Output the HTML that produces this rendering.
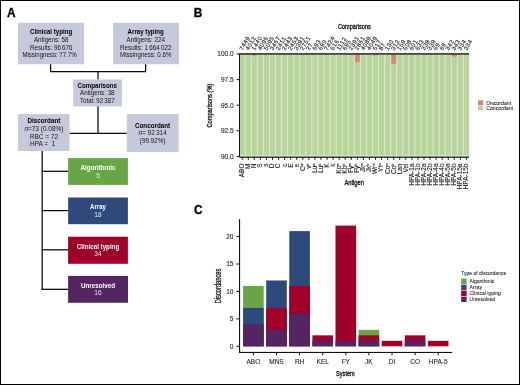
<!DOCTYPE html>
<html><head><meta charset="utf-8"><style>
html,body{margin:0;padding:0;background:#fff;}
body{width:520px;height:385px;overflow:hidden;}
svg{display:block;font-family:"Liberation Sans", sans-serif;will-change:transform;}
</style></head><body>
<svg width="520" height="385" viewBox="0 0 520 385">
<text x="7.0" y="16.8" font-size="11.9" font-weight="bold" fill="#000" text-anchor="start" stroke="#000" stroke-width="0.3">A</text>
<polyline points="50.6,64 50.6,71.7 145.6,71.7 145.6,64" fill="none" stroke="#0a0a0a" stroke-width="1.25" stroke-linejoin="round"/>
<line x1="98" y1="71.7" x2="98" y2="79.5" stroke="#0a0a0a" stroke-width="1.25"/>
<line x1="98" y1="106" x2="98" y2="133.3" stroke="#050505" stroke-width="1.25"/>
<line x1="69.5" y1="133.4" x2="126.8" y2="133.4" stroke="#050505" stroke-width="1.25"/>
<line x1="42.2" y1="151" x2="42.2" y2="289.9" stroke="#050505" stroke-width="1.25"/>
<line x1="41.55" y1="171.3" x2="68.1" y2="171.3" stroke="#050505" stroke-width="1.25"/>
<line x1="41.55" y1="210.6" x2="68.1" y2="210.6" stroke="#050505" stroke-width="1.25"/>
<line x1="41.55" y1="249.8" x2="68.1" y2="249.8" stroke="#050505" stroke-width="1.25"/>
<line x1="41.55" y1="289.3" x2="68.1" y2="289.3" stroke="#050505" stroke-width="1.25"/>
<rect x="18" y="22.8" width="66.00" height="41.50" fill="#c6c8db"/>
<rect x="113" y="22.8" width="66.00" height="41.50" fill="#c6c8db"/>
<rect x="73.2" y="79.5" width="48.70" height="26.90" fill="#c6c8db"/>
<rect x="18.1" y="114.1" width="51.40" height="36.90" fill="#c6c8db"/>
<rect x="126.8" y="114.1" width="51.80" height="38.00" fill="#c6c8db"/>
<rect x="68.1" y="158.1" width="59.80" height="26.80" fill="#68a545"/>
<rect x="68.1" y="197.5" width="59.80" height="26.70" fill="#2e4a7b"/>
<rect x="68.1" y="236.7" width="59.80" height="27.10" fill="#a0002a"/>
<rect x="68.1" y="275.9" width="59.90" height="26.90" fill="#532563"/>
<text x="51.2" y="34.2" font-size="6.6" font-weight="bold" fill="#000" text-anchor="middle" textLength="42.2" lengthAdjust="spacingAndGlyphs">Clinical typing</text>
<text x="51.2" y="42.0" font-size="6.6" font-weight="normal" fill="#161616" text-anchor="middle" textLength="34.5" lengthAdjust="spacingAndGlyphs">Antigens: 58</text>
<text x="51.2" y="49.8" font-size="6.6" font-weight="normal" fill="#161616" text-anchor="middle" textLength="42.3" lengthAdjust="spacingAndGlyphs">Results: 96 676</text>
<text x="49.5" y="57.4" font-size="6.6" font-weight="normal" fill="#161616" text-anchor="middle" textLength="54.2" lengthAdjust="spacingAndGlyphs">Missingness: 77.7%</text>
<text x="145.7" y="34.2" font-size="6.6" font-weight="bold" fill="#000" text-anchor="middle" textLength="36.2" lengthAdjust="spacingAndGlyphs">Array typing</text>
<text x="145.7" y="42.0" font-size="6.6" font-weight="normal" fill="#161616" text-anchor="middle" textLength="38.5" lengthAdjust="spacingAndGlyphs">Antigens: 224</text>
<text x="145.7" y="49.8" font-size="6.6" font-weight="normal" fill="#161616" text-anchor="middle" textLength="51.4" lengthAdjust="spacingAndGlyphs">Results: 1 664 022</text>
<text x="145.7" y="57.4" font-size="6.6" font-weight="normal" fill="#161616" text-anchor="middle" textLength="51.4" lengthAdjust="spacingAndGlyphs">Missingness: 0.6%</text>
<text x="97.3" y="87.6" font-size="6.6" font-weight="bold" fill="#000" text-anchor="middle" textLength="39.5" lengthAdjust="spacingAndGlyphs">Comparisons</text>
<text x="97.3" y="95.2" font-size="6.6" font-weight="normal" fill="#161616" text-anchor="middle" textLength="34.5" lengthAdjust="spacingAndGlyphs">Antigens: 38</text>
<text x="97.3" y="103.1" font-size="6.6" font-weight="normal" fill="#161616" text-anchor="middle" textLength="34.5" lengthAdjust="spacingAndGlyphs">Total: 92 387</text>
<text x="43.9" y="123.0" font-size="6.6" font-weight="bold" fill="#000" text-anchor="middle" textLength="33.0" lengthAdjust="spacingAndGlyphs">Discordant</text>
<text x="43.9" y="130.8" font-size="6.6" font-weight="normal" fill="#161616" text-anchor="middle" textLength="39.0" lengthAdjust="spacingAndGlyphs"><tspan font-style="italic">n</tspan>=73 (0.08%)</text>
<text x="43.9" y="138.6" font-size="6.6" font-weight="normal" fill="#161616" text-anchor="middle" textLength="28.2" lengthAdjust="spacingAndGlyphs">RBC = 72</text>
<text x="42.7" y="146.4" font-size="6.6" font-weight="normal" fill="#161616" text-anchor="middle" textLength="25.2" lengthAdjust="spacingAndGlyphs">HPA =&#160; 1</text>
<text x="152.6" y="127.5" font-size="6.6" font-weight="bold" fill="#000" text-anchor="middle" textLength="35.2" lengthAdjust="spacingAndGlyphs">Concordant</text>
<text x="152.6" y="135.4" font-size="6.6" font-weight="normal" fill="#161616" text-anchor="middle" textLength="28.3" lengthAdjust="spacingAndGlyphs"><tspan font-style="italic">n</tspan>= 92 314</text>
<text x="152.6" y="143.1" font-size="6.6" font-weight="normal" fill="#161616" text-anchor="middle" textLength="25.6" lengthAdjust="spacingAndGlyphs">(99.92%)</text>
<text x="98.0" y="169.5" font-size="6.6" font-weight="bold" fill="#fff" text-anchor="middle" textLength="35.0" lengthAdjust="spacingAndGlyphs">Algorithmic</text>
<text x="98.0" y="177.6" font-size="6.6" font-weight="normal" fill="#e8eee4" text-anchor="middle">5</text>
<text x="98.0" y="208.8" font-size="6.6" font-weight="bold" fill="#fff" text-anchor="middle" textLength="15.8" lengthAdjust="spacingAndGlyphs">Array</text>
<text x="98.0" y="216.9" font-size="6.6" font-weight="normal" fill="#e4e8f0" text-anchor="middle">18</text>
<text x="98.0" y="248.5" font-size="6.6" font-weight="bold" fill="#fff" text-anchor="middle" textLength="42.4" lengthAdjust="spacingAndGlyphs">Clinical typing</text>
<text x="98.0" y="256.4" font-size="6.6" font-weight="normal" fill="#f0dde0" text-anchor="middle">34</text>
<text x="98.0" y="287.8" font-size="6.6" font-weight="bold" fill="#fff" text-anchor="middle" textLength="34.2" lengthAdjust="spacingAndGlyphs">Unresolved</text>
<text x="98.0" y="295.2" font-size="6.6" font-weight="normal" fill="#e6dce8" text-anchor="middle">16</text>
<text x="193.8" y="17.0" font-size="11.9" font-weight="bold" fill="#000" text-anchor="start" stroke="#000" stroke-width="0.3">B</text>
<text x="354.4" y="29.4" font-size="7.8" font-weight="normal" fill="#1a1a1a" text-anchor="middle" textLength="32.8" lengthAdjust="spacingAndGlyphs" stroke="#1a1a1a" stroke-width="0.35">Comparisons</text>
<text x="0" y="0" font-size="8.1" fill="#1a1a1a" stroke="#1a1a1a" stroke-width="0.35" text-anchor="middle" textLength="44.0" lengthAdjust="spacingAndGlyphs" transform="translate(211.5,105.6) rotate(-90)">Comparisons (%)</text>
<text x="354.2" y="185.2" font-size="7.8" font-weight="normal" fill="#1a1a1a" text-anchor="middle" textLength="19.6" lengthAdjust="spacingAndGlyphs" stroke="#1a1a1a" stroke-width="0.35">Antigen</text>
<rect x="239.6" y="54.0" width="229.40" height="102.40" fill="#dfebd5"/>
<rect x="239.65" y="54.0" width="5.10" height="1.72" fill="#d2877f"/>
<rect x="239.65" y="54.716799999999935" width="5.10" height="101.68" fill="#bad59c"/>
<rect x="245.71" y="54.0" width="5.10" height="1.72" fill="#d2877f"/>
<rect x="245.71" y="54.716799999999935" width="5.10" height="101.68" fill="#bad59c"/>
<rect x="251.77" y="54.0" width="5.10" height="2.64" fill="#d2877f"/>
<rect x="251.77" y="55.63839999999996" width="5.10" height="100.76" fill="#bad59c"/>
<rect x="257.83" y="54.0" width="5.10" height="102.40" fill="#bad59c"/>
<rect x="263.89" y="54.0" width="5.10" height="102.40" fill="#bad59c"/>
<rect x="269.95" y="54.0" width="5.10" height="102.40" fill="#bad59c"/>
<rect x="276.01" y="54.0" width="5.10" height="1.31" fill="#d2877f"/>
<rect x="276.01" y="54.30720000000001" width="5.10" height="102.09" fill="#bad59c"/>
<rect x="282.07" y="54.0" width="5.10" height="1.31" fill="#d2877f"/>
<rect x="282.07" y="54.30720000000001" width="5.10" height="102.09" fill="#bad59c"/>
<rect x="288.13" y="54.0" width="5.10" height="102.40" fill="#bad59c"/>
<rect x="294.19" y="54.0" width="5.10" height="102.40" fill="#bad59c"/>
<rect x="300.25" y="54.0" width="5.10" height="102.40" fill="#bad59c"/>
<rect x="306.31" y="54.0" width="5.10" height="102.40" fill="#bad59c"/>
<rect x="312.37" y="54.0" width="5.10" height="102.40" fill="#bad59c"/>
<rect x="318.43" y="54.0" width="5.10" height="102.40" fill="#bad59c"/>
<rect x="324.49" y="54.0" width="5.10" height="102.40" fill="#bad59c"/>
<rect x="330.55" y="54.0" width="5.10" height="102.40" fill="#bad59c"/>
<rect x="336.61" y="54.0" width="5.10" height="102.40" fill="#bad59c"/>
<rect x="342.67" y="54.0" width="5.10" height="102.40" fill="#bad59c"/>
<rect x="348.73" y="54.0" width="5.10" height="102.40" fill="#bad59c"/>
<rect x="354.79" y="54.0" width="5.10" height="9.19" fill="#d2877f"/>
<rect x="354.79" y="62.19199999999998" width="5.10" height="94.21" fill="#bad59c"/>
<rect x="360.85" y="54.0" width="5.10" height="102.40" fill="#bad59c"/>
<rect x="366.91" y="54.0" width="5.10" height="102.40" fill="#bad59c"/>
<rect x="372.97" y="54.0" width="5.10" height="2.23" fill="#d2877f"/>
<rect x="372.97" y="55.22880000000005" width="5.10" height="101.17" fill="#bad59c"/>
<rect x="379.03" y="54.0" width="5.10" height="102.40" fill="#bad59c"/>
<rect x="385.09" y="54.0" width="5.10" height="102.40" fill="#bad59c"/>
<rect x="391.15" y="54.0" width="5.10" height="10.73" fill="#d2877f"/>
<rect x="391.15" y="63.72800000000004" width="5.10" height="92.67" fill="#bad59c"/>
<rect x="397.21" y="54.0" width="5.10" height="102.40" fill="#bad59c"/>
<rect x="403.27" y="54.0" width="5.10" height="102.40" fill="#bad59c"/>
<rect x="409.33" y="54.0" width="5.10" height="102.40" fill="#bad59c"/>
<rect x="415.39" y="54.0" width="5.10" height="102.40" fill="#bad59c"/>
<rect x="421.45" y="54.0" width="5.10" height="102.40" fill="#bad59c"/>
<rect x="427.51" y="54.0" width="5.10" height="102.40" fill="#bad59c"/>
<rect x="433.57" y="54.0" width="5.10" height="102.40" fill="#bad59c"/>
<rect x="439.63" y="54.0" width="5.10" height="102.40" fill="#bad59c"/>
<rect x="445.69" y="54.0" width="5.10" height="102.40" fill="#bad59c"/>
<rect x="451.75" y="54.0" width="5.10" height="3.56" fill="#d2877f"/>
<rect x="451.75" y="56.56" width="5.10" height="99.84" fill="#bad59c"/>
<rect x="457.81" y="54.0" width="5.10" height="102.40" fill="#bad59c"/>
<rect x="463.87" y="54.0" width="5.10" height="102.40" fill="#bad59c"/>
<rect x="239.6" y="53.1" width="229.40" height="1.60" fill="#333"/>
<rect x="239.6" y="155.1" width="229.40" height="1.50" fill="#d2e5c2"/>
<rect x="239.6" y="156.6" width="229.40" height="1.20" fill="#111"/>
<rect x="239.0" y="53.3" width="1.00" height="103.90" fill="#111"/>
<line x1="236.6" y1="54.0" x2="239.2" y2="54.0" stroke="#111" stroke-width="1.0"/>
<text x="233.6" y="56.3" font-size="6.5" font-weight="normal" fill="#222" text-anchor="end" stroke="#222" stroke-width="0.1">100.0</text>
<line x1="236.6" y1="79.6" x2="239.2" y2="79.6" stroke="#111" stroke-width="1.0"/>
<text x="233.6" y="81.89999999999999" font-size="6.5" font-weight="normal" fill="#222" text-anchor="end" stroke="#222" stroke-width="0.1">97.5</text>
<line x1="236.6" y1="105.2" x2="239.2" y2="105.2" stroke="#111" stroke-width="1.0"/>
<text x="233.6" y="107.5" font-size="6.5" font-weight="normal" fill="#222" text-anchor="end" stroke="#222" stroke-width="0.1">95.0</text>
<line x1="236.6" y1="130.8" x2="239.2" y2="130.8" stroke="#111" stroke-width="1.0"/>
<text x="233.6" y="133.10000000000002" font-size="6.5" font-weight="normal" fill="#222" text-anchor="end" stroke="#222" stroke-width="0.1">92.5</text>
<line x1="236.6" y1="156.4" x2="239.2" y2="156.4" stroke="#111" stroke-width="1.0"/>
<text x="233.6" y="158.70000000000002" font-size="6.5" font-weight="normal" fill="#222" text-anchor="end" stroke="#222" stroke-width="0.1">90.0</text>
<line x1="242.2" y1="157.2" x2="242.2" y2="159.8" stroke="#111" stroke-width="1.0"/>
<text x="0" y="0" font-size="6.5" fill="#1a1a1a" stroke="#1a1a1a" stroke-width="0.1" text-anchor="end" transform="translate(244.10,163.5) rotate(-90)">ABO</text>
<text x="0" y="0" font-size="6.0" letter-spacing="0.45" fill="#1a1a1a" stroke="#1a1a1a" stroke-width="0.12" text-anchor="start" transform="translate(242.70,50.8) rotate(-60)">7449</text>
<line x1="248.26" y1="157.2" x2="248.26" y2="159.8" stroke="#111" stroke-width="1.0"/>
<text x="0" y="0" font-size="6.5" fill="#1a1a1a" stroke="#1a1a1a" stroke-width="0.1" text-anchor="end" transform="translate(250.16,163.5) rotate(-90)">M</text>
<text x="0" y="0" font-size="6.0" letter-spacing="0.45" fill="#1a1a1a" stroke="#1a1a1a" stroke-width="0.12" text-anchor="start" transform="translate(248.76,50.8) rotate(-60)">4012</text>
<line x1="254.32" y1="157.2" x2="254.32" y2="159.8" stroke="#111" stroke-width="1.0"/>
<text x="0" y="0" font-size="6.5" fill="#1a1a1a" stroke="#1a1a1a" stroke-width="0.1" text-anchor="end" transform="translate(256.22,163.5) rotate(-90)">N</text>
<text x="0" y="0" font-size="6.0" letter-spacing="0.45" fill="#1a1a1a" stroke="#1a1a1a" stroke-width="0.12" text-anchor="start" transform="translate(254.82,50.8) rotate(-60)">1440</text>
<line x1="260.38" y1="157.2" x2="260.38" y2="159.8" stroke="#111" stroke-width="1.0"/>
<text x="0" y="0" font-size="6.5" fill="#1a1a1a" stroke="#1a1a1a" stroke-width="0.1" text-anchor="end" transform="translate(262.28,163.5) rotate(-90)">S</text>
<text x="0" y="0" font-size="6.0" letter-spacing="0.45" fill="#1a1a1a" stroke="#1a1a1a" stroke-width="0.12" text-anchor="start" transform="translate(260.88,50.8) rotate(-60)">4096</text>
<line x1="266.44" y1="157.2" x2="266.44" y2="159.8" stroke="#111" stroke-width="1.0"/>
<text x="0" y="0" font-size="6.5" fill="#1a1a1a" stroke="#1a1a1a" stroke-width="0.1" text-anchor="end" transform="translate(268.34,163.5) rotate(-90)">s</text>
<text x="0" y="0" font-size="6.0" letter-spacing="0.45" fill="#1a1a1a" stroke="#1a1a1a" stroke-width="0.12" text-anchor="start" transform="translate(266.94,50.8) rotate(-60)">5095</text>
<line x1="272.5" y1="157.2" x2="272.5" y2="159.8" stroke="#111" stroke-width="1.0"/>
<text x="0" y="0" font-size="6.5" fill="#1a1a1a" stroke="#1a1a1a" stroke-width="0.1" text-anchor="end" transform="translate(274.40,163.5) rotate(-90)">D</text>
<text x="0" y="0" font-size="6.0" letter-spacing="0.45" fill="#1a1a1a" stroke="#1a1a1a" stroke-width="0.12" text-anchor="start" transform="translate(273.00,50.8) rotate(-60)">3467</text>
<line x1="278.56" y1="157.2" x2="278.56" y2="159.8" stroke="#111" stroke-width="1.0"/>
<text x="0" y="0" font-size="6.5" fill="#1a1a1a" stroke="#1a1a1a" stroke-width="0.1" text-anchor="end" transform="translate(280.46,163.5) rotate(-90)">C</text>
<text x="0" y="0" font-size="6.0" letter-spacing="0.45" fill="#1a1a1a" stroke="#1a1a1a" stroke-width="0.12" text-anchor="start" transform="translate(279.06,50.8) rotate(-60)">2411</text>
<line x1="284.62" y1="157.2" x2="284.62" y2="159.8" stroke="#111" stroke-width="1.0"/>
<text x="0" y="0" font-size="6.5" fill="#1a1a1a" stroke="#1a1a1a" stroke-width="0.1" text-anchor="end" transform="translate(286.52,163.5) rotate(-90)">c</text>
<text x="0" y="0" font-size="6.0" letter-spacing="0.45" fill="#1a1a1a" stroke="#1a1a1a" stroke-width="0.12" text-anchor="start" transform="translate(285.12,50.8) rotate(-60)">2443</text>
<line x1="290.68" y1="157.2" x2="290.68" y2="159.8" stroke="#111" stroke-width="1.0"/>
<text x="0" y="0" font-size="6.5" fill="#1a1a1a" stroke="#1a1a1a" stroke-width="0.1" text-anchor="end" transform="translate(292.58,163.5) rotate(-90)">E</text>
<text x="0" y="0" font-size="6.0" letter-spacing="0.45" fill="#1a1a1a" stroke="#1a1a1a" stroke-width="0.12" text-anchor="start" transform="translate(291.18,50.8) rotate(-60)">2453</text>
<line x1="296.74" y1="157.2" x2="296.74" y2="159.8" stroke="#111" stroke-width="1.0"/>
<text x="0" y="0" font-size="6.5" fill="#1a1a1a" stroke="#1a1a1a" stroke-width="0.1" text-anchor="end" transform="translate(298.64,163.5) rotate(-90)">e</text>
<text x="0" y="0" font-size="6.0" letter-spacing="0.45" fill="#1a1a1a" stroke="#1a1a1a" stroke-width="0.12" text-anchor="start" transform="translate(297.24,50.8) rotate(-60)">3391</text>
<line x1="302.79999999999995" y1="157.2" x2="302.79999999999995" y2="159.8" stroke="#111" stroke-width="1.0"/>
<text x="0" y="0" font-size="6.5" fill="#1a1a1a" stroke="#1a1a1a" stroke-width="0.1" text-anchor="end" transform="translate(304.70,163.5) rotate(-90)">C<tspan font-size="4" dy="-2">w</tspan></text>
<text x="0" y="0" font-size="6.0" letter-spacing="0.45" fill="#1a1a1a" stroke="#1a1a1a" stroke-width="0.12" text-anchor="start" transform="translate(303.30,50.8) rotate(-60)">2751</text>
<line x1="308.86" y1="157.2" x2="308.86" y2="159.8" stroke="#111" stroke-width="1.0"/>
<text x="0" y="0" font-size="6.5" fill="#1a1a1a" stroke="#1a1a1a" stroke-width="0.1" text-anchor="end" transform="translate(310.76,163.5) rotate(-90)">v<tspan font-size="4" dy="-2">s</tspan></text>
<text x="0" y="0" font-size="6.0" letter-spacing="0.45" fill="#1a1a1a" stroke="#1a1a1a" stroke-width="0.12" text-anchor="start" transform="translate(309.36,50.8) rotate(-60)">27</text>
<line x1="314.91999999999996" y1="157.2" x2="314.91999999999996" y2="159.8" stroke="#111" stroke-width="1.0"/>
<text x="0" y="0" font-size="6.5" fill="#1a1a1a" stroke="#1a1a1a" stroke-width="0.1" text-anchor="end" transform="translate(316.82,163.5) rotate(-90)">Lu<tspan font-size="4" dy="-2">a</tspan></text>
<text x="0" y="0" font-size="6.0" letter-spacing="0.45" fill="#1a1a1a" stroke="#1a1a1a" stroke-width="0.12" text-anchor="start" transform="translate(315.42,50.8) rotate(-60)">693</text>
<line x1="320.98" y1="157.2" x2="320.98" y2="159.8" stroke="#111" stroke-width="1.0"/>
<text x="0" y="0" font-size="6.5" fill="#1a1a1a" stroke="#1a1a1a" stroke-width="0.1" text-anchor="end" transform="translate(322.88,163.5) rotate(-90)">Lu<tspan font-size="4" dy="-2">b</tspan></text>
<text x="0" y="0" font-size="6.0" letter-spacing="0.45" fill="#1a1a1a" stroke="#1a1a1a" stroke-width="0.12" text-anchor="start" transform="translate(321.48,50.8) rotate(-60)">690</text>
<line x1="327.03999999999996" y1="157.2" x2="327.03999999999996" y2="159.8" stroke="#111" stroke-width="1.0"/>
<text x="0" y="0" font-size="6.5" fill="#1a1a1a" stroke="#1a1a1a" stroke-width="0.1" text-anchor="end" transform="translate(328.94,163.5) rotate(-90)">K</text>
<text x="0" y="0" font-size="6.0" letter-spacing="0.45" fill="#1a1a1a" stroke="#1a1a1a" stroke-width="0.12" text-anchor="start" transform="translate(327.54,50.8) rotate(-60)">7424</text>
<line x1="333.09999999999997" y1="157.2" x2="333.09999999999997" y2="159.8" stroke="#111" stroke-width="1.0"/>
<text x="0" y="0" font-size="6.5" fill="#1a1a1a" stroke="#1a1a1a" stroke-width="0.1" text-anchor="end" transform="translate(335.00,163.5) rotate(-90)">k</text>
<text x="0" y="0" font-size="6.0" letter-spacing="0.45" fill="#1a1a1a" stroke="#1a1a1a" stroke-width="0.12" text-anchor="start" transform="translate(333.60,50.8) rotate(-60)">616</text>
<line x1="339.15999999999997" y1="157.2" x2="339.15999999999997" y2="159.8" stroke="#111" stroke-width="1.0"/>
<text x="0" y="0" font-size="6.5" fill="#1a1a1a" stroke="#1a1a1a" stroke-width="0.1" text-anchor="end" transform="translate(341.06,163.5) rotate(-90)">Kp<tspan font-size="4" dy="-2">a</tspan></text>
<text x="0" y="0" font-size="6.0" letter-spacing="0.45" fill="#1a1a1a" stroke="#1a1a1a" stroke-width="0.12" text-anchor="start" transform="translate(339.66,50.8) rotate(-60)">1112</text>
<line x1="345.21999999999997" y1="157.2" x2="345.21999999999997" y2="159.8" stroke="#111" stroke-width="1.0"/>
<text x="0" y="0" font-size="6.5" fill="#1a1a1a" stroke="#1a1a1a" stroke-width="0.1" text-anchor="end" transform="translate(347.12,163.5) rotate(-90)">Kp<tspan font-size="4" dy="-2">b</tspan></text>
<text x="0" y="0" font-size="6.0" letter-spacing="0.45" fill="#1a1a1a" stroke="#1a1a1a" stroke-width="0.12" text-anchor="start" transform="translate(345.72,50.8) rotate(-60)">695</text>
<line x1="351.28" y1="157.2" x2="351.28" y2="159.8" stroke="#111" stroke-width="1.0"/>
<text x="0" y="0" font-size="6.5" fill="#1a1a1a" stroke="#1a1a1a" stroke-width="0.1" text-anchor="end" transform="translate(353.18,163.5) rotate(-90)">Fy<tspan font-size="4" dy="-2">a</tspan></text>
<text x="0" y="0" font-size="6.0" letter-spacing="0.45" fill="#1a1a1a" stroke="#1a1a1a" stroke-width="0.12" text-anchor="start" transform="translate(351.78,50.8) rotate(-60)">2391</text>
<line x1="357.34" y1="157.2" x2="357.34" y2="159.8" stroke="#111" stroke-width="1.0"/>
<text x="0" y="0" font-size="6.5" fill="#1a1a1a" stroke="#1a1a1a" stroke-width="0.1" text-anchor="end" transform="translate(359.24,163.5) rotate(-90)">Fy<tspan font-size="4" dy="-2">b</tspan></text>
<text x="0" y="0" font-size="6.0" letter-spacing="0.45" fill="#1a1a1a" stroke="#1a1a1a" stroke-width="0.12" text-anchor="start" transform="translate(357.84,50.8) rotate(-60)">2861</text>
<line x1="363.4" y1="157.2" x2="363.4" y2="159.8" stroke="#111" stroke-width="1.0"/>
<text x="0" y="0" font-size="6.5" fill="#1a1a1a" stroke="#1a1a1a" stroke-width="0.1" text-anchor="end" transform="translate(365.30,163.5) rotate(-90)">Jk<tspan font-size="4" dy="-2">a</tspan></text>
<text x="0" y="0" font-size="6.0" letter-spacing="0.45" fill="#1a1a1a" stroke="#1a1a1a" stroke-width="0.12" text-anchor="start" transform="translate(363.90,50.8) rotate(-60)">4089</text>
<line x1="369.46" y1="157.2" x2="369.46" y2="159.8" stroke="#111" stroke-width="1.0"/>
<text x="0" y="0" font-size="6.5" fill="#1a1a1a" stroke="#1a1a1a" stroke-width="0.1" text-anchor="end" transform="translate(371.36,163.5) rotate(-90)">Jk<tspan font-size="4" dy="-2">b</tspan></text>
<text x="0" y="0" font-size="6.0" letter-spacing="0.45" fill="#1a1a1a" stroke="#1a1a1a" stroke-width="0.12" text-anchor="start" transform="translate(369.96,50.8) rotate(-60)">4049</text>
<line x1="375.52" y1="157.2" x2="375.52" y2="159.8" stroke="#111" stroke-width="1.0"/>
<text x="0" y="0" font-size="6.5" fill="#1a1a1a" stroke="#1a1a1a" stroke-width="0.1" text-anchor="end" transform="translate(377.42,163.5) rotate(-90)">Wr<tspan font-size="4" dy="-2">a</tspan></text>
<text x="0" y="0" font-size="6.0" letter-spacing="0.45" fill="#1a1a1a" stroke="#1a1a1a" stroke-width="0.12" text-anchor="start" transform="translate(376.02,50.8) rotate(-60)">617</text>
<line x1="381.58" y1="157.2" x2="381.58" y2="159.8" stroke="#111" stroke-width="1.0"/>
<text x="0" y="0" font-size="6.5" fill="#1a1a1a" stroke="#1a1a1a" stroke-width="0.1" text-anchor="end" transform="translate(383.48,163.5) rotate(-90)">Yt<tspan font-size="4" dy="-2">a</tspan></text>
<text x="0" y="0" font-size="6.0" letter-spacing="0.45" fill="#1a1a1a" stroke="#1a1a1a" stroke-width="0.12" text-anchor="start" transform="translate(382.08,50.8) rotate(-60)">87</text>
<line x1="387.64" y1="157.2" x2="387.64" y2="159.8" stroke="#111" stroke-width="1.0"/>
<text x="0" y="0" font-size="6.5" fill="#1a1a1a" stroke="#1a1a1a" stroke-width="0.1" text-anchor="end" transform="translate(389.54,163.5) rotate(-90)">Co<tspan font-size="4" dy="-2">a</tspan></text>
<text x="0" y="0" font-size="6.0" letter-spacing="0.45" fill="#1a1a1a" stroke="#1a1a1a" stroke-width="0.12" text-anchor="start" transform="translate(388.14,50.8) rotate(-60)">130</text>
<line x1="393.7" y1="157.2" x2="393.7" y2="159.8" stroke="#111" stroke-width="1.0"/>
<text x="0" y="0" font-size="6.5" fill="#1a1a1a" stroke="#1a1a1a" stroke-width="0.1" text-anchor="end" transform="translate(395.60,163.5) rotate(-90)">Co<tspan font-size="4" dy="-2">b</tspan></text>
<text x="0" y="0" font-size="6.0" letter-spacing="0.45" fill="#1a1a1a" stroke="#1a1a1a" stroke-width="0.12" text-anchor="start" transform="translate(394.20,50.8) rotate(-60)">312</text>
<line x1="399.76" y1="157.2" x2="399.76" y2="159.8" stroke="#111" stroke-width="1.0"/>
<text x="0" y="0" font-size="6.5" fill="#1a1a1a" stroke="#1a1a1a" stroke-width="0.1" text-anchor="end" transform="translate(401.66,163.5) rotate(-90)">Lan</text>
<text x="0" y="0" font-size="6.0" letter-spacing="0.45" fill="#1a1a1a" stroke="#1a1a1a" stroke-width="0.12" text-anchor="start" transform="translate(400.26,50.8) rotate(-60)">169</text>
<line x1="405.81999999999994" y1="157.2" x2="405.81999999999994" y2="159.8" stroke="#111" stroke-width="1.0"/>
<text x="0" y="0" font-size="6.5" fill="#1a1a1a" stroke="#1a1a1a" stroke-width="0.1" text-anchor="end" transform="translate(407.72,163.5) rotate(-90)">Vel</text>
<text x="0" y="0" font-size="6.0" letter-spacing="0.45" fill="#1a1a1a" stroke="#1a1a1a" stroke-width="0.12" text-anchor="start" transform="translate(406.32,50.8) rotate(-60)">608</text>
<line x1="411.88" y1="157.2" x2="411.88" y2="159.8" stroke="#111" stroke-width="1.0"/>
<text x="0" y="0" font-size="6.5" fill="#1a1a1a" stroke="#1a1a1a" stroke-width="0.1" text-anchor="end" transform="translate(413.78,163.5) rotate(-90)">HPA-1a</text>
<text x="0" y="0" font-size="6.0" letter-spacing="0.45" fill="#1a1a1a" stroke="#1a1a1a" stroke-width="0.12" text-anchor="start" transform="translate(412.38,50.8) rotate(-60)">601</text>
<line x1="417.93999999999994" y1="157.2" x2="417.93999999999994" y2="159.8" stroke="#111" stroke-width="1.0"/>
<text x="0" y="0" font-size="6.5" fill="#1a1a1a" stroke="#1a1a1a" stroke-width="0.1" text-anchor="end" transform="translate(419.84,163.5) rotate(-90)">HPA-1b</text>
<text x="0" y="0" font-size="6.0" letter-spacing="0.45" fill="#1a1a1a" stroke="#1a1a1a" stroke-width="0.12" text-anchor="start" transform="translate(418.44,50.8) rotate(-60)">633</text>
<line x1="424.0" y1="157.2" x2="424.0" y2="159.8" stroke="#111" stroke-width="1.0"/>
<text x="0" y="0" font-size="6.5" fill="#1a1a1a" stroke="#1a1a1a" stroke-width="0.1" text-anchor="end" transform="translate(425.90,163.5) rotate(-90)">HPA-2a</text>
<text x="0" y="0" font-size="6.0" letter-spacing="0.45" fill="#1a1a1a" stroke="#1a1a1a" stroke-width="0.12" text-anchor="start" transform="translate(424.50,50.8) rotate(-60)">338</text>
<line x1="430.05999999999995" y1="157.2" x2="430.05999999999995" y2="159.8" stroke="#111" stroke-width="1.0"/>
<text x="0" y="0" font-size="6.5" fill="#1a1a1a" stroke="#1a1a1a" stroke-width="0.1" text-anchor="end" transform="translate(431.96,163.5) rotate(-90)">HPA-2b</text>
<text x="0" y="0" font-size="6.0" letter-spacing="0.45" fill="#1a1a1a" stroke="#1a1a1a" stroke-width="0.12" text-anchor="start" transform="translate(430.56,50.8) rotate(-60)">339</text>
<line x1="436.12" y1="157.2" x2="436.12" y2="159.8" stroke="#111" stroke-width="1.0"/>
<text x="0" y="0" font-size="6.5" fill="#1a1a1a" stroke="#1a1a1a" stroke-width="0.1" text-anchor="end" transform="translate(438.02,163.5) rotate(-90)">HPA-4a</text>
<text x="0" y="0" font-size="6.0" letter-spacing="0.45" fill="#1a1a1a" stroke="#1a1a1a" stroke-width="0.12" text-anchor="start" transform="translate(436.62,50.8) rotate(-60)">69</text>
<line x1="442.17999999999995" y1="157.2" x2="442.17999999999995" y2="159.8" stroke="#111" stroke-width="1.0"/>
<text x="0" y="0" font-size="6.5" fill="#1a1a1a" stroke="#1a1a1a" stroke-width="0.1" text-anchor="end" transform="translate(444.08,163.5) rotate(-90)">HPA-4b</text>
<text x="0" y="0" font-size="6.0" letter-spacing="0.45" fill="#1a1a1a" stroke="#1a1a1a" stroke-width="0.12" text-anchor="start" transform="translate(442.68,50.8) rotate(-60)">69</text>
<line x1="448.24" y1="157.2" x2="448.24" y2="159.8" stroke="#111" stroke-width="1.0"/>
<text x="0" y="0" font-size="6.5" fill="#1a1a1a" stroke="#1a1a1a" stroke-width="0.1" text-anchor="end" transform="translate(450.14,163.5) rotate(-90)">HPA-5a</text>
<text x="0" y="0" font-size="6.0" letter-spacing="0.45" fill="#1a1a1a" stroke="#1a1a1a" stroke-width="0.12" text-anchor="start" transform="translate(448.74,50.8) rotate(-60)">342</text>
<line x1="454.29999999999995" y1="157.2" x2="454.29999999999995" y2="159.8" stroke="#111" stroke-width="1.0"/>
<text x="0" y="0" font-size="6.5" fill="#1a1a1a" stroke="#1a1a1a" stroke-width="0.1" text-anchor="end" transform="translate(456.20,163.5) rotate(-90)">HPA-5b</text>
<text x="0" y="0" font-size="6.0" letter-spacing="0.45" fill="#1a1a1a" stroke="#1a1a1a" stroke-width="0.12" text-anchor="start" transform="translate(454.80,50.8) rotate(-60)">343</text>
<line x1="460.36" y1="157.2" x2="460.36" y2="159.8" stroke="#111" stroke-width="1.0"/>
<text x="0" y="0" font-size="6.5" fill="#1a1a1a" stroke="#1a1a1a" stroke-width="0.1" text-anchor="end" transform="translate(462.26,163.5) rotate(-90)">HPA-15a</text>
<text x="0" y="0" font-size="6.0" letter-spacing="0.45" fill="#1a1a1a" stroke="#1a1a1a" stroke-width="0.12" text-anchor="start" transform="translate(460.86,50.8) rotate(-60)">334</text>
<line x1="466.41999999999996" y1="157.2" x2="466.41999999999996" y2="159.8" stroke="#111" stroke-width="1.0"/>
<text x="0" y="0" font-size="6.5" fill="#1a1a1a" stroke="#1a1a1a" stroke-width="0.1" text-anchor="end" transform="translate(468.32,163.5) rotate(-90)">HPA-15b</text>
<text x="0" y="0" font-size="6.0" letter-spacing="0.45" fill="#1a1a1a" stroke="#1a1a1a" stroke-width="0.12" text-anchor="start" transform="translate(466.92,50.8) rotate(-60)">334</text>
<rect x="478" y="100.3" width="5.20" height="4.80" fill="#d2877f"/>
<rect x="478" y="105.6" width="5.20" height="4.80" fill="#bad59c"/>
<text x="486.2" y="104.6" font-size="6.0" font-weight="normal" fill="#222" text-anchor="start" textLength="25.0" lengthAdjust="spacingAndGlyphs" stroke="#222" stroke-width="0.08">Discordant</text>
<text x="486.2" y="109.9" font-size="6.0" font-weight="normal" fill="#222" text-anchor="start" textLength="26.8" lengthAdjust="spacingAndGlyphs" stroke="#222" stroke-width="0.08">Concordant</text>
<text x="193.9" y="213.6" font-size="11.9" font-weight="bold" fill="#000" text-anchor="start" stroke="#000" stroke-width="0.3">C</text>
<rect x="239.0" y="219.2" width="1.10" height="133.80" fill="#111"/>
<rect x="239.0" y="351.9" width="213.20" height="1.10" fill="#111"/>
<line x1="236.4" y1="346.3" x2="239.2" y2="346.3" stroke="#111" stroke-width="1.0"/>
<text x="233.4" y="348.6" font-size="6.5" font-weight="normal" fill="#222" text-anchor="end" stroke="#222" stroke-width="0.1">0</text>
<line x1="236.4" y1="318.87" x2="239.2" y2="318.87" stroke="#111" stroke-width="1.0"/>
<text x="233.4" y="321.17" font-size="6.5" font-weight="normal" fill="#222" text-anchor="end" stroke="#222" stroke-width="0.1">5</text>
<line x1="236.4" y1="291.44" x2="239.2" y2="291.44" stroke="#111" stroke-width="1.0"/>
<text x="233.4" y="293.74" font-size="6.5" font-weight="normal" fill="#222" text-anchor="end" stroke="#222" stroke-width="0.1">10</text>
<line x1="236.4" y1="264.01" x2="239.2" y2="264.01" stroke="#111" stroke-width="1.0"/>
<text x="233.4" y="266.31" font-size="6.5" font-weight="normal" fill="#222" text-anchor="end" stroke="#222" stroke-width="0.1">15</text>
<line x1="236.4" y1="236.58" x2="239.2" y2="236.58" stroke="#111" stroke-width="1.0"/>
<text x="233.4" y="238.88000000000002" font-size="6.5" font-weight="normal" fill="#222" text-anchor="end" stroke="#222" stroke-width="0.1">20</text>
<rect x="243.1" y="285.95" width="20.60" height="60.35" fill="#68a545"/>
<rect x="243.1" y="307.9" width="20.60" height="38.40" fill="#2e4a7b"/>
<rect x="243.1" y="324.36" width="20.60" height="21.94" fill="#532563"/>
<line x1="253.39999999999998" y1="352.5" x2="253.39999999999998" y2="355.3" stroke="#111" stroke-width="1.0"/>
<text x="253.39999999999998" y="364.2" font-size="6.5" font-weight="normal" fill="#222" text-anchor="middle" stroke="#222" stroke-width="0.1">ABO</text>
<rect x="266.2" y="280.47" width="20.60" height="65.83" fill="#2e4a7b"/>
<rect x="266.2" y="307.9" width="20.60" height="38.40" fill="#a0002a"/>
<rect x="266.2" y="329.84" width="20.60" height="16.46" fill="#532563"/>
<line x1="276.5" y1="352.5" x2="276.5" y2="355.3" stroke="#111" stroke-width="1.0"/>
<text x="276.5" y="364.2" font-size="6.5" font-weight="normal" fill="#222" text-anchor="middle" stroke="#222" stroke-width="0.1">MNS</text>
<rect x="289.3" y="231.09" width="20.60" height="115.21" fill="#2e4a7b"/>
<rect x="289.3" y="285.95" width="20.60" height="60.35" fill="#a0002a"/>
<rect x="289.3" y="313.38" width="20.60" height="32.92" fill="#532563"/>
<line x1="299.6" y1="352.5" x2="299.6" y2="355.3" stroke="#111" stroke-width="1.0"/>
<text x="299.6" y="364.2" font-size="6.5" font-weight="normal" fill="#222" text-anchor="middle" stroke="#222" stroke-width="0.1">RH</text>
<rect x="312.4" y="335.33" width="20.60" height="10.97" fill="#a0002a"/>
<rect x="312.4" y="340.81" width="20.60" height="5.49" fill="#532563"/>
<line x1="322.7" y1="352.5" x2="322.7" y2="355.3" stroke="#111" stroke-width="1.0"/>
<text x="322.7" y="364.2" font-size="6.5" font-weight="normal" fill="#222" text-anchor="middle" stroke="#222" stroke-width="0.1">KEL</text>
<rect x="335.5" y="225.61" width="20.60" height="120.69" fill="#a0002a"/>
<rect x="335.5" y="340.81" width="20.60" height="5.49" fill="#532563"/>
<line x1="345.8" y1="352.5" x2="345.8" y2="355.3" stroke="#111" stroke-width="1.0"/>
<text x="345.8" y="364.2" font-size="6.5" font-weight="normal" fill="#222" text-anchor="middle" stroke="#222" stroke-width="0.1">FY</text>
<rect x="358.6" y="329.84" width="20.60" height="16.46" fill="#68a545"/>
<rect x="358.6" y="335.33" width="20.60" height="10.97" fill="#a0002a"/>
<rect x="358.6" y="340.81" width="20.60" height="5.49" fill="#532563"/>
<line x1="368.90000000000003" y1="352.5" x2="368.90000000000003" y2="355.3" stroke="#111" stroke-width="1.0"/>
<text x="368.90000000000003" y="364.2" font-size="6.5" font-weight="normal" fill="#222" text-anchor="middle" stroke="#222" stroke-width="0.1">JK</text>
<rect x="381.7" y="340.81" width="20.60" height="5.49" fill="#a0002a"/>
<line x1="392.00000000000006" y1="352.5" x2="392.00000000000006" y2="355.3" stroke="#111" stroke-width="1.0"/>
<text x="392.00000000000006" y="364.2" font-size="6.5" font-weight="normal" fill="#222" text-anchor="middle" stroke="#222" stroke-width="0.1">DI</text>
<rect x="404.8" y="335.33" width="20.60" height="10.97" fill="#a0002a"/>
<rect x="404.8" y="340.81" width="20.60" height="5.49" fill="#532563"/>
<line x1="415.1" y1="352.5" x2="415.1" y2="355.3" stroke="#111" stroke-width="1.0"/>
<text x="415.1" y="364.2" font-size="6.5" font-weight="normal" fill="#222" text-anchor="middle" stroke="#222" stroke-width="0.1">CO</text>
<rect x="427.9" y="340.81" width="20.60" height="5.49" fill="#a0002a"/>
<line x1="438.2" y1="352.5" x2="438.2" y2="355.3" stroke="#111" stroke-width="1.0"/>
<text x="438.2" y="364.2" font-size="6.5" font-weight="normal" fill="#222" text-anchor="middle" stroke="#222" stroke-width="0.1">HPA-5</text>
<text x="345.4" y="375.6" font-size="7.8" font-weight="normal" fill="#1a1a1a" text-anchor="middle" textLength="18.6" lengthAdjust="spacingAndGlyphs" stroke="#1a1a1a" stroke-width="0.35">System</text>
<text x="0" y="0" font-size="8.6" fill="#1a1a1a" stroke="#1a1a1a" stroke-width="0.35" text-anchor="middle" textLength="34.6" lengthAdjust="spacingAndGlyphs" transform="translate(221.1,286) rotate(-90)">Discordances</text>
<text x="461.2" y="274.5" font-size="6.0" font-weight="normal" fill="#222" text-anchor="start" textLength="45.0" lengthAdjust="spacingAndGlyphs" stroke="#222" stroke-width="0.08">Type of discordance</text>
<rect x="461.2" y="278.6" width="5.40" height="5.40" fill="#68a545"/>
<text x="469.5" y="283.0" font-size="6.0" font-weight="normal" fill="#222" text-anchor="start" textLength="24.9" lengthAdjust="spacingAndGlyphs" stroke="#222" stroke-width="0.08">Algorithmic</text>
<rect x="461.2" y="284.6" width="5.40" height="5.40" fill="#2e4a7b"/>
<text x="469.5" y="289.0" font-size="6.0" font-weight="normal" fill="#222" text-anchor="start" textLength="12.5" lengthAdjust="spacingAndGlyphs" stroke="#222" stroke-width="0.08">Array</text>
<rect x="461.2" y="290.6" width="5.40" height="5.40" fill="#a0002a"/>
<text x="469.5" y="295.0" font-size="6.0" font-weight="normal" fill="#222" text-anchor="start" textLength="31.4" lengthAdjust="spacingAndGlyphs" stroke="#222" stroke-width="0.08">Clinical typing</text>
<rect x="461.2" y="296.6" width="5.40" height="5.40" fill="#532563"/>
<text x="469.5" y="301.0" font-size="6.0" font-weight="normal" fill="#222" text-anchor="start" textLength="25.5" lengthAdjust="spacingAndGlyphs" stroke="#222" stroke-width="0.08">Unresolved</text>
<rect x="0.5" y="0.5" width="519" height="384" fill="none" stroke="#000" stroke-width="1"/>
</svg>
</body></html>
